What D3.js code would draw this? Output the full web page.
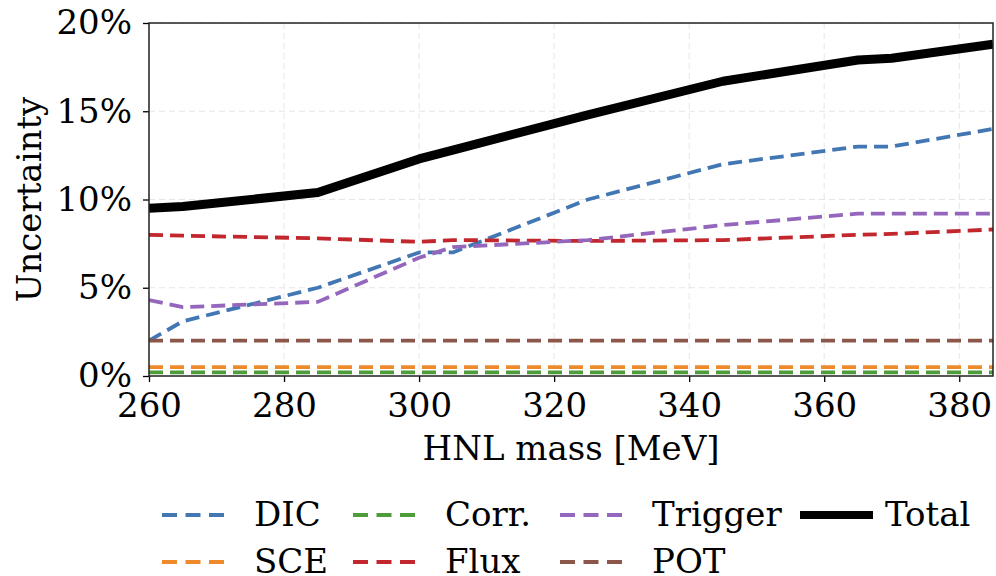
<!DOCTYPE html>
<html>
<head>
<meta charset="utf-8">
<script src="https://cdn.jsdelivr.net/npm/d3@7"></script>
<style>
  body { margin: 0; background: #fff; }
  text { font-family: "DejaVu Serif", serif; fill: #000; }
</style>
</head>
<body>
<div id="chart"></div>
<script>
// data
var masses  = [260, 265, 285, 300, 305, 325, 345, 365, 370, 385];
var dic     = [2.0, 3.1, 5.0, 7.0, 7.0, 10.0, 12.0, 13.0, 13.0, 14.0];
var sce     = [0.5, 0.5, 0.5, 0.5, 0.5, 0.5, 0.5, 0.5, 0.5, 0.5];
var corr    = [0.2, 0.2, 0.2, 0.2, 0.2, 0.2, 0.2, 0.2, 0.2, 0.2];
var flux    = [8.0, 7.95, 7.8, 7.6, 7.7, 7.65, 7.7, 8.0, 8.05, 8.3];
var trigger = [4.3, 3.9, 4.2, 6.7, 7.3, 7.7, 8.55, 9.2, 9.2, 9.2];
var pot     = [2.0, 2.0, 2.0, 2.0, 2.0, 2.0, 2.0, 2.0, 2.0, 2.0];
var total   = [9.5, 9.6, 10.4, 12.3, 12.8, 14.8, 16.7, 17.9, 18.0, 18.8];

var xTicks = [260, 280, 300, 320, 340, 360, 380];
var yTicks = [0, 5, 10, 15, 20];

var series = [
  {name: "DIC", values: dic, color: "#4277b3"},
  {name: "SCE", values: sce, color: "#ef8a2c"},
  {name: "Corr.", values: corr, color: "#4f9d3a"},
  {name: "Flux", values: flux, color: "#c1272d"},
  {name: "Trigger", values: trigger, color: "#9467bd"},
  {name: "POT", values: pot, color: "#8c564b"},
  {name: "Total", values: total, color: "#000000", solid: true}
];

var svgWidth = 996;
var svgHeight = 576;
var margin = {top: 23, right: 3, bottom: 200, left: 149};
var width = svgWidth - margin.left - margin.right;
var height = svgHeight - margin.top - margin.bottom;
var fontSize = "34px";

var svg = d3.select("#chart")
  .append("svg")
  .attr("width", svgWidth)
  .attr("height", svgHeight);

var chartGroup = svg.append("g")
  .attr("transform", `translate(${margin.left}, ${margin.top})`);

var x = d3.scaleLinear().domain([260, 385]).range([0, width]);
var y = d3.scaleLinear().domain([0, 20]).range([height, 0]);

// grid
chartGroup.append("g").selectAll("line")
  .data(xTicks).enter().append("line")
  .attr("x1", d => x(d)).attr("x2", d => x(d))
  .attr("y1", 0).attr("y2", height)
  .attr("stroke", "#e6e6e6").attr("stroke-width", 1)
  .attr("stroke-dasharray", "6,4");
chartGroup.append("g").selectAll("line")
  .data(yTicks).enter().append("line")
  .attr("x1", 0).attr("x2", width)
  .attr("y1", d => y(d)).attr("y2", d => y(d))
  .attr("stroke", "#e6e6e6").attr("stroke-width", 1)
  .attr("stroke-dasharray", "6,4");

// lines
var line = d3.line()
  .x((d, i) => x(masses[i]))
  .y(d => y(d));

chartGroup.append("defs").append("clipPath").attr("id", "clip")
  .append("rect").attr("width", width).attr("height", height);

var plot = chartGroup.append("g").attr("clip-path", "url(#clip)");
series.forEach(function(s) {
  plot.append("path")
    .datum(s.values)
    .attr("d", line)
    .attr("fill", "none")
    .attr("stroke", s.color)
    .attr("stroke-width", s.solid ? 9 : 3.8)
    .attr("stroke-dasharray", s.solid ? null : "14,7")
    .attr("stroke-linejoin", "round");
});

// axes
var bottomAxis = d3.axisBottom(x).tickValues(xTicks).tickSize(6).tickPadding(11);
var leftAxis = d3.axisLeft(y).tickValues(yTicks).tickSize(6).tickPadding(11)
  .tickFormat(d => d + "%");

var xg = chartGroup.append("g")
  .attr("transform", `translate(0, ${height})`)
  .call(bottomAxis);
var yg = chartGroup.append("g").call(leftAxis);

[xg, yg].forEach(function(g) {
  g.select(".domain").remove();
  g.selectAll("line").attr("stroke", "#000").attr("stroke-width", 1.3);
  g.selectAll("text").style("font-family", "DejaVu Serif").style("font-size", fontSize);
});

// frame
chartGroup.append("rect")
  .attr("width", width).attr("height", height)
  .attr("fill", "none").attr("stroke", "#222").attr("stroke-width", 1.5);

// axis labels
chartGroup.append("text")
  .attr("transform", "rotate(-90)")
  .attr("x", 0 - height / 2)
  .attr("y", 41 - margin.left)
  .style("text-anchor", "middle")
  .style("font-size", fontSize)
  .text("Uncertainty");

chartGroup.append("text")
  .attr("x", width / 2)
  .attr("y", 460 - margin.top)
  .style("text-anchor", "middle")
  .style("font-size", fontSize)
  .text("HNL mass [MeV]");

// legend
var legendPos = [
  [162, 515], [162, 562],
  [353, 515], [353, 562],
  [560, 515], [560, 562],
  [800, 515]
];
var legend = svg.append("g");
series.forEach(function(s, i) {
  var g = legend.append("g")
    .attr("transform", `translate(${legendPos[i][0]}, ${legendPos[i][1]})`);
  g.append("line")
    .attr("x1", 0).attr("x2", s.solid ? 73 : 62)
    .attr("y1", 0).attr("y2", 0)
    .attr("stroke", s.color)
    .attr("stroke-width", s.solid ? 8 : 3.8)
    .attr("stroke-dasharray", s.solid ? null : "15,8.5");
  g.append("text")
    .attr("x", s.solid ? 85 : 92)
    .attr("y", 11)
    .style("font-size", fontSize)
    .text(s.name);
});
</script>
</body>
</html>
